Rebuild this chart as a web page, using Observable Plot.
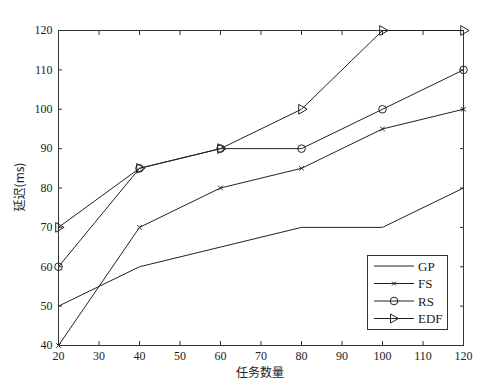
<!DOCTYPE html>
<html><head><meta charset="utf-8">
<script src="https://cdn.jsdelivr.net/npm/d3@7"></script>
<script src="https://cdn.jsdelivr.net/npm/@observablehq/plot@0.6"></script>
<style>
body{margin:0;background:#fff;}
#wrap{position:relative;width:502px;height:387px;}
#legend{position:absolute;left:367px;top:255px;}
</style></head>
<body><div id="wrap"></div>
<script>
const tasks = [20, 40, 60, 80, 100, 120];
const gp  = [50, 60, 65, 70, 70, 80];
const fs  = [40, 70, 80, 85, 95, 100];
const rs  = [60, 85, 90, 90, 100, 110];
const edf = [70, 85, 90, 100, 120, 120];
const seriesNames = ["GP", "FS", "RS", "EDF"];
const xTicks = [20,30,40,50,60,70,80,90,100,110,120];
const yTicks = [40,50,60,70,80,90,100,110,120];

const mk = (vals, name) => tasks.map((t, i) => ({x: t, y: vals[i], s: name}));
const dGP = mk(gp, "GP"), dFS = mk(fs, "FS"), dRS = mk(rs, "RS"), dEDF = mk(edf, "EDF");

const ink = "#222";
const font = "'Liberation Serif', 'Times New Roman', serif";
const chart = Plot.plot({
  width: 502, height: 387,
  marginLeft: 58, marginRight: 39, marginTop: 30, marginBottom: 42,
  style: {fontFamily: font, fontSize: "12px", background: "#fff", color: ink},
  x: {domain: [20, 120], ticks: xTicks, label: null},
  y: {domain: [40, 120], ticks: yTicks, label: null},
  marks: [
    Plot.frame({stroke: "#333", strokeWidth: 1}),
    Plot.axisX({ticks: xTicks, tickSize: -4, tickPadding: 10, anchor: "bottom", stroke: "#333"}),
    Plot.axisX({ticks: xTicks, tickSize: -4, text: null, anchor: "top", stroke: "#333"}),
    Plot.axisY({ticks: yTicks, tickSize: -4, tickPadding: 10, anchor: "left", stroke: "#333"}),
    Plot.axisY({ticks: yTicks, tickSize: -4, text: null, anchor: "right", stroke: "#333"}),
    Plot.line(dGP, {x: "x", y: "y", stroke: ink, strokeWidth: 1}),
    Plot.line(dFS, {x: "x", y: "y", stroke: ink, strokeWidth: 1}),
    Plot.line(dRS, {x: "x", y: "y", stroke: ink, strokeWidth: 1}),
    Plot.line(dEDF, {x: "x", y: "y", stroke: ink, strokeWidth: 1}),
    Plot.dot(dFS, {x: "x", y: "y", symbol: "times", r: 2.2, stroke: ink, strokeWidth: 1}),
    Plot.dot(dRS, {x: "x", y: "y", symbol: "circle", r: 3.8, stroke: ink, fill: "none", strokeWidth: 1}),
    Plot.dot(dEDF, {x: "x", y: "y", symbol: "triangle", r: 3.6, rotate: 90, stroke: ink, fill: "none", strokeWidth: 1})
  ]
});
const wrap = document.getElementById("wrap");
wrap.appendChild(chart);

// axis titles
const svg = d3.select(chart);
svg.append("text").attr("x", 260).attr("y", 377).attr("text-anchor", "middle")
  .attr("font-family", "'Noto Sans CJK SC', sans-serif").attr("font-size", 12).attr("fill", ink).text("任务数量");
svg.append("text").attr("transform", "translate(24,187) rotate(-90)").attr("text-anchor", "middle")
  .attr("font-family", "'Noto Sans CJK SC', sans-serif").attr("font-size", 12).attr("fill", ink).text("延迟(ms)");

// legend
const lg = d3.select(wrap).append("svg").attr("id", "legend").attr("width", 81).attr("height", 75);
lg.append("rect").attr("x", 0.5).attr("y", 0.5).attr("width", 80).attr("height", 74).attr("fill", "#fff").attr("stroke", "#333");
seriesNames.forEach((n, i) => {
  const cy = 11 + i * 17.5;
  lg.append("line").attr("x1", 7).attr("x2", 47).attr("y1", cy).attr("y2", cy).attr("stroke", ink);
  const cx = 27;
  if (n === "FS") {
    lg.append("path").attr("d", `M${cx-2},${cy-2}L${cx+2},${cy+2}M${cx-2},${cy+2}L${cx+2},${cy-2}`).attr("stroke", ink);
  } else if (n === "RS") {
    lg.append("circle").attr("cx", cx).attr("cy", cy).attr("r", 3.8).attr("fill", "none").attr("stroke", ink);
  } else if (n === "EDF") {
    lg.append("path").attr("d", `M${cx-3.5},${cy-4.5}L${cx+4.5},${cy}L${cx-3.5},${cy+4.5}Z`).attr("fill", "none").attr("stroke", ink);
  }
  lg.append("text").attr("x", 51).attr("y", cy + 4.5).attr("font-family", font).attr("font-size", 13).attr("fill", ink).text(n);
});
</script></body></html>
